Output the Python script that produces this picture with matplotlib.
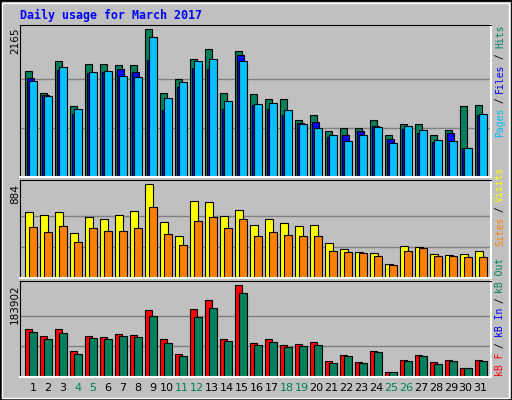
import numpy as np
import matplotlib
matplotlib.use("Agg")
import matplotlib.pyplot as plt
from matplotlib.patches import Rectangle

days = list(range(1, 32))
weekend = [4, 5, 11, 12, 18, 19, 25, 26]

hits = [1562, 1239, 1709, 1048, 1665, 1665, 1651, 1651, 2165, 1239, 1445, 1739, 1886, 1239, 1856, 1225,
        1151, 1151, 842, 916, 681, 725, 725, 842, 622, 784, 784, 622, 696, 1048, 1063]
files = [1460, 1210, 1577, 931, 1533, 1548, 1592, 1548, 1724, 989, 1327, 1607, 1592, 1004, 1798, 1063,
         1004, 916, 798, 813, 593, 622, 681, 754, 563, 710, 651, 519, 651, 431, 916]
pages = [1416, 1195, 1621, 1004, 1548, 1562, 1489, 1474, 2062, 1166, 1401, 1709, 1739, 1122, 1709, 1078,
         1092, 989, 784, 725, 622, 534, 622, 740, 504, 754, 696, 549, 534, 431, 931]
visits = [625, 597, 625, 424, 578, 558, 597, 635, 884, 530, 396, 731, 721, 587, 645, 501,
          558, 520, 491, 501, 329, 271, 243, 233, 128, 300, 290, 223, 214, 223, 252]
sites = [482, 434, 491, 338, 472, 444, 444, 472, 673, 415, 310, 539, 578, 472, 558, 396,
         434, 405, 396, 396, 252, 243, 233, 204, 118, 252, 281, 204, 204, 195, 195]
kb_f = [95310, 81215, 95310, 51011, 81215, 79202, 85242, 83229, 133569, 75174, 46984, 135582, 153705,
        75174, 183902, 67120, 75174, 63093, 65106, 69134, 32889, 44970, 30875, 51011, 10739, 34902,
        44970, 30875, 34902, 18794, 34902]
kb_in = [89270, 75174, 87256, 46984, 77188, 75174, 81215, 79202, 121487, 67120, 42957, 119474, 137596,
         71147, 167800, 63093, 69134, 59066, 61079, 63093, 28862, 42957, 28862, 48998, 10739, 32889,
         42957, 26848, 32889, 18794, 32889]

W, H = 512, 400
GREY = "#c0c0c0"
GREEN = "#00805c"
mono = "DejaVu Sans Mono"

fig = plt.figure(figsize=(W / 100, H / 100), dpi=100, facecolor=GREY)
fig.patches.append(Rectangle((0, 0), 1, 1, transform=fig.transFigure, fill=False,
                             edgecolor="black", linewidth=2))
fig.patches.append(Rectangle((2 / W, 2 / H), 1 - 5 / W, 1 - 5 / H, transform=fig.transFigure,
                             fill=False, edgecolor="white", linewidth=1))


def make_ax(top, bottom, ymax):
    ax = fig.add_axes([20 / W, 1 - bottom / H, 471 / W, (bottom - top) / H])
    ax.set_facecolor(GREY)
    ax.set_xlim(0, 471)
    ax.set_ylim(0, ymax)
    ax.set_xticks([])
    ax.set_yticks([])
    for s in ["top", "left"]:
        ax.spines[s].set_color("black")
    for s in ["bottom", "right"]:
        ax.spines[s].set_color("white")
        ax.spines[s].set_linewidth(1.5)
    return ax


x = 5.3 + 15 * np.arange(31)

# top panel
ax1 = make_ax(25, 177, 2231)
for g in [2165 / 3, 2165 * 2 / 3]:
    ax1.axhline(g, color="#808080", lw=1, zorder=0)
ax1.bar(x, hits, width=7, align="edge", color=GREEN, edgecolor="black", lw=0.8)
ax1.bar(x + 2, files, width=7, align="edge", color="#0000ff", edgecolor="black", lw=0.8)
ax1.bar(x + 4, pages, width=7.4, align="edge", color="#00c0ff", edgecolor="black", lw=0.8)

# middle panel
ax2 = make_ax(180, 278, 925)
for g in [884 / 3, 884 * 2 / 3]:
    ax2.axhline(g, color="#808080", lw=1, zorder=0)
ax2.bar(x, visits, width=8, align="edge", color="#ffff00", edgecolor="black", lw=0.8)
ax2.bar(x + 4, sites, width=7.4, align="edge", color="#ff8000", edgecolor="black", lw=0.8)

# bottom panel
ax3 = make_ax(281, 377, 191950)
for g in [183902 / 3, 183902 * 2 / 3]:
    ax3.axhline(g, color="#808080", lw=1, zorder=0)
ax3.bar(x, kb_f, width=7, align="edge", color="#ff0000", edgecolor="black", lw=0.8)
ax3.bar(x + 4, kb_in, width=7.4, align="edge", color=GREEN, edgecolor="black", lw=0.8)

for i, d in enumerate(days):
    fig.text((33 + 14.92 * i) / W, 1 - 388 / H, str(d), ha="center", va="center",
             fontsize=8, family="DejaVu Sans", color=GREEN if d in weekend else "black")

fig.text(20 / W, 1 - 15 / H, "Daily usage for March 2017", fontsize=8.4, family=mono,
         weight="bold", color="#0000ff", ha="left", va="center")

for label, ytop in [("2165", 27), ("884", 184), ("183902", 284)]:
    fig.text(15 / W, 1 - ytop / H, label, rotation=90, fontsize=7.5, family="DejaVu Sans",
             ha="center", va="top")

charw = 5.55


def right_label(pieces, ybottom):
    y = ybottom
    for txt, col in pieces:
        fig.text(500 / W, 1 - y / H, txt, rotation=90, fontsize=7, family=mono, color=col,
                 ha="center", va="bottom")
        y -= len(txt) * charw


right_label([("Pages", "#00c0ff"), (" / ", "black"), ("Files", "#0000ff"),
             (" / ", "black"), ("Hits", GREEN)], 137)
right_label([("Sites", "#ff8000"), (" / ", "black"), ("Visits", "#ffff00")], 246)
right_label([("kB F", "#ff0000"), (" / ", "black"), ("kB In", "#0000ff"),
             (" / ", "black"), ("kB Out", GREEN)], 376)

fig.savefig("out.png", dpi=100, facecolor=GREY)
